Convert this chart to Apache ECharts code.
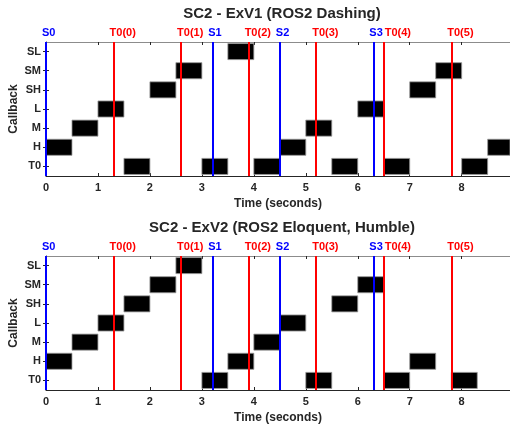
<!DOCTYPE html>
<html>
<head>
<meta charset="utf-8">
<script src="https://cdn.jsdelivr.net/npm/echarts@6/dist/echarts.min.js"></script>
<style>
  html, body { margin: 0; padding: 0; background: #fff; }
  #main { width: 510px; height: 428px; }
</style>
</head>
<body>
<div id="main"></div>
<script>
var callbacks = ['T0', 'H', 'M', 'L', 'SH', 'SM', 'SL'];
var xTicks = [0, 1, 2, 3, 4, 5, 6, 7, 8];

// S events (blue) and T0 timer events (red)
var sTimes = [0, 3.2, 4.5, 6.3];
var sNames = ['S0', 'S1', 'S2', 'S3'];
var tTimes = [1.3, 2.6, 3.9, 5.2, 6.5, 7.8];
var tNames = ['T0(0)', 'T0(1)', 'T0(2)', 'T0(3)', 'T0(4)', 'T0(5)'];

// [callback, start, end]
var exv1 = [
    ['SL', 3.5, 4.0],
    ['SM', 2.5, 3.0], ['SM', 7.5, 8.0],
    ['SH', 2.0, 2.5], ['SH', 7.0, 7.5],
    ['L', 1.0, 1.5], ['L', 6.0, 6.5],
    ['M', 0.5, 1.0], ['M', 5.0, 5.5],
    ['H', 0, 0.5], ['H', 4.5, 5.0], ['H', 8.5, 9.0],
    ['T0', 1.5, 2.0], ['T0', 3.0, 3.5], ['T0', 4.0, 4.5], ['T0', 5.5, 6.0], ['T0', 6.5, 7.0], ['T0', 8.0, 8.5]
];
var exv2 = [
    ['SL', 2.5, 3.0],
    ['SM', 2.0, 2.5], ['SM', 6.0, 6.5],
    ['SH', 1.5, 2.0], ['SH', 5.5, 6.0],
    ['L', 1.0, 1.5], ['L', 4.5, 5.0],
    ['M', 0.5, 1.0], ['M', 4.0, 4.5],
    ['H', 0, 0.5], ['H', 3.5, 4.0], ['H', 7.0, 7.5],
    ['T0', 3.0, 3.5], ['T0', 5.0, 5.5], ['T0', 6.5, 7.0], ['T0', 7.8, 8.3]
];

var xMax = 8.93;
var font = 'Liberation Sans, Arial, Helvetica, sans-serif';
var txt = '#262626';

var chart = echarts.init(document.getElementById('main'));

function renderBlock(params, api) {
    var start = api.coord([api.value(1), api.value(0)]);
    var end = api.coord([api.value(2), api.value(0)]);
    var h = api.size([0, 1])[1] * 0.84;
    var rect = echarts.graphic.clipRectByRect({
        x: start[0], y: start[1] - h / 2, width: end[0] - start[0], height: h
    }, {
        x: params.coordSys.x, y: params.coordSys.y,
        width: params.coordSys.width, height: params.coordSys.height
    });
    return rect && {
        type: 'rect',
        shape: rect,
        style: { fill: '#000', stroke: '#9a9a9a', lineWidth: 0.8 }
    };
}

function eventLines() {
    var lines = [];
    sTimes.forEach(function (t, i) {
        lines.push({ xAxis: t, name: sNames[i], lineStyle: { color: '#0000ff' }, label: { color: '#0000ff' } });
    });
    tTimes.forEach(function (t, i) {
        // nudge a label right when an S label sits just before it
        var crowded = sTimes.some(function (s) { return s < t && t - s < 0.3; });
        lines.push({
            xAxis: t, name: tNames[i], lineStyle: { color: '#ff0000' },
            label: { color: '#ff0000', padding: crowded ? [0, 0, 0, 1] : [0, 0, 0, -4] }
        });
    });
    return lines;
}

var grids = [], xAxes = [], yAxes = [], series = [];
[exv1, exv2].forEach(function (blocks, g) {
    grids.push({ left: 46, right: 0, top: 42 + g * 214, height: 134, containLabel: false, outerBoundsMode: 'none' });
    xAxes.push({
        type: 'value', gridIndex: g, min: 0, max: xMax, interval: 1,
        name: 'Time (seconds)', nameLocation: 'middle', nameGap: 22,
        nameTextStyle: { fontFamily: font, fontWeight: 'bold', fontSize: 12, color: txt },
        axisLine: { show: true, onZero: false, lineStyle: { color: '#262626', width: 1 } },
        axisTick: { show: true, inside: true, length: 3, lineStyle: { color: '#262626' } },
        axisLabel: {
            fontFamily: font, fontWeight: 'bold', fontSize: 11, color: txt, margin: 6,
            showMaxLabel: false,
            formatter: function (v) { return xTicks.indexOf(v) >= 0 ? String(v) : ''; }
        },
        splitLine: { show: false }
    });
    xAxes.push({
        type: 'value', gridIndex: g, position: 'top', min: 0, max: xMax, interval: 1,
        axisLine: { show: true, onZero: false, lineStyle: { color: '#8c8c8c', width: 1 } },
        axisTick: { show: true, inside: true, length: 3, lineStyle: { color: '#262626' } },
        axisLabel: { show: false },
        splitLine: { show: false }
    });
    yAxes.push({
        type: 'category', gridIndex: g, data: callbacks,
        name: 'Callback', nameLocation: 'middle', nameGap: 26, nameMoveOverlap: false,
        nameTextStyle: { fontFamily: font, fontWeight: 'bold', fontSize: 12, color: txt },
        axisLine: { show: true, lineStyle: { color: '#262626' } },
        axisTick: { show: true, inside: true, length: 3, alignWithLabel: true, lineStyle: { color: '#262626' } },
        axisLabel: { fontFamily: font, fontWeight: 'bold', fontSize: 11, color: txt, margin: 5 },
        splitLine: { show: false }
    });
    yAxes.push({
        type: 'category', gridIndex: g, data: callbacks, position: 'right',
        axisLine: { show: false },
        axisTick: { show: true, inside: true, length: 3, alignWithLabel: true, lineStyle: { color: '#262626' } },
        axisLabel: { show: false },
        splitLine: { show: false }
    });
    series.push({
        type: 'custom',
        xAxisIndex: g * 2, yAxisIndex: g * 2,
        renderItem: renderBlock,
        encode: { x: [1, 2], y: 0 },
        data: blocks,
        z: 2
    });
    series.push({
        type: 'line',
        xAxisIndex: g * 2, yAxisIndex: g * 2,
        data: [],
        markLine: {
            silent: true,
            symbol: ['none', 'none'],
            z: 5,
            animation: false,
            lineStyle: { type: 'solid', width: 2 },
            label: {
                show: true, position: 'end', formatter: '{b}', distance: 4,
                align: 'left', padding: [0, 0, 0, -4],
                fontFamily: font, fontWeight: 'bold', fontSize: 11
            },
            data: eventLines()
        }
    });
});

var option = {
    animation: false,
    backgroundColor: '#fff',
    title: [
        { text: 'SC2 - ExV1 (ROS2 Dashing)', left: 277, top: 1, textAlign: 'center',
          textStyle: { fontFamily: font, fontWeight: 'bold', fontSize: 15, color: txt } },
        { text: 'SC2 - ExV2 (ROS2 Eloquent, Humble)', left: 277, top: 215, textAlign: 'center',
          textStyle: { fontFamily: font, fontWeight: 'bold', fontSize: 15, color: txt } }
    ],
    grid: grids,
    xAxis: xAxes,
    yAxis: yAxes,
    series: series
};

option && chart.setOption(option);
</script>
</body>
</html>
